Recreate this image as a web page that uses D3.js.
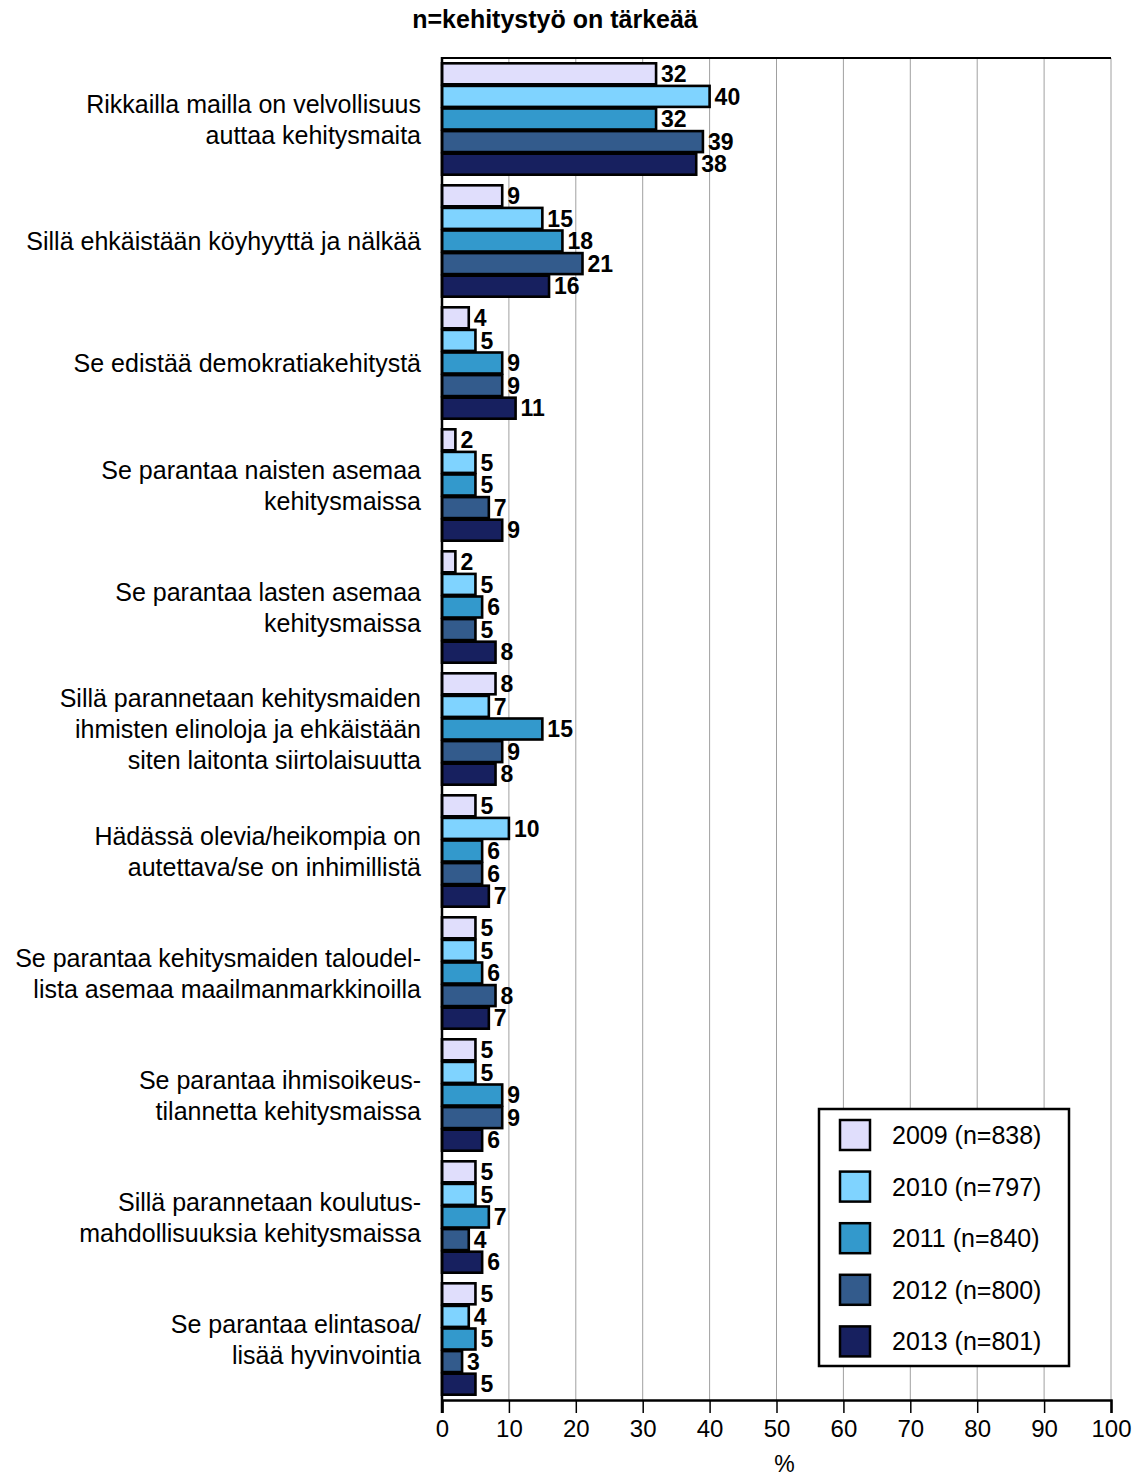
<!DOCTYPE html>
<html><head><meta charset="utf-8">
<script src="https://cdn.jsdelivr.net/npm/d3@7"></script>
<style>body{margin:0;background:#fff;}svg{display:block;font-family:"Liberation Sans",Arial,sans-serif;}</style>
</head><body>
<svg id="c" width="1138" height="1478"></svg>
<script>
const title = "n=kehitystyö on tärkeää";
const categories = [
  ["Rikkailla mailla on velvollisuus","auttaa kehitysmaita"],
  ["Sillä ehkäistään köyhyyttä ja nälkää"],
  ["Se edistää demokratiakehitystä"],
  ["Se parantaa naisten asemaa","kehitysmaissa"],
  ["Se parantaa lasten asemaa","kehitysmaissa"],
  ["Sillä parannetaan kehitysmaiden","ihmisten elinoloja ja ehkäistään","siten laitonta siirtolaisuutta"],
  ["Hädässä olevia/heikompia on","autettava/se on inhimillistä"],
  ["Se parantaa kehitysmaiden taloudel-","lista asemaa maailmanmarkkinoilla"],
  ["Se parantaa ihmisoikeus-","tilannetta kehitysmaissa"],
  ["Sillä parannetaan koulutus-","mahdollisuuksia kehitysmaissa"],
  ["Se parantaa elintasoa/","lisää hyvinvointia"]
];
const seriesNames = ["2009 (n=838)","2010 (n=797)","2011 (n=840)","2012 (n=800)","2013 (n=801)"];
const v2009 = [32,9,4,2,2,8,5,5,5,5,5];
const v2010 = [40,15,5,5,5,7,10,5,5,5,4];
const v2011 = [32,18,9,5,6,15,6,6,9,7,5];
const v2012 = [39,21,9,7,5,9,6,8,9,4,3];
const v2013 = [38,16,11,9,8,8,7,7,6,6,5];
const seriesValues = [v2009,v2010,v2011,v2012,v2013];
const colors = ["#E0DEFC","#7FD3FF","#3399CC","#335B8C","#17205F"];
const xTicks = [0,10,20,30,40,50,60,70,80,90,100];

const svg = d3.select("#c");
const L = 442, R = 1111, T = 58, B = 1400;
const x = d3.scaleLinear().domain([0,100]).range([L,R]);
const y0 = d3.scaleBand().domain(d3.range(categories.length)).range([T,B]);
const y1 = d3.scaleBand().domain(d3.range(seriesNames.length)).range([4.5, y0.bandwidth()-4.5]);

// title
svg.append("text").attr("x",555).attr("y",28).attr("text-anchor","middle")
  .attr("font-size",25).attr("font-weight","bold").text(title);

// gridlines
svg.append("g").selectAll("line").data(xTicks.slice(1)).join("line")
  .attr("x1",d=>x(d)).attr("x2",d=>x(d)).attr("y1",T).attr("y2",B)
  .attr("stroke","#a0a0a0").attr("stroke-width",1);
// top border
svg.append("line").attr("x1",L).attr("x2",R).attr("y1",T).attr("y2",T).attr("stroke","#000").attr("stroke-width",2);

// bars
const groups = svg.append("g").selectAll("g").data(categories).join("g")
  .attr("transform",(d,i)=>`translate(0,${y0(i)})`);
groups.each(function(cat,i){
  const g = d3.select(this);
  seriesValues.forEach((vals,s)=>{
    const v = vals[i];
    const yy = y1(s);
    const h = y1.bandwidth();
    g.append("rect").attr("x",x(0)).attr("y",yy+0.8).attr("width",x(v)-x(0)).attr("height",h-1.6)
      .attr("fill",colors[s]).attr("stroke","#000").attr("stroke-width",2.6);
    g.append("text").attr("x",x(v)+5).attr("y",yy+h/2).attr("dy","0.36em")
      .attr("font-size",23).attr("font-weight","bold").text(v);
  });
  // category label
  const n = cat.length, lh = 31;
  const cy = y0.bandwidth()/2;
  cat.forEach((line,k)=>{
    g.append("text").attr("x",421).attr("y",cy + (k-(n-1)/2)*lh).attr("dy","0.36em")
      .attr("text-anchor","end").attr("font-size",25).text(line);
  });
});

// axes
const xAxis = d3.axisBottom(x).tickValues(xTicks).tickSize(13).tickPadding(7);
const ax = svg.append("g").attr("transform",`translate(0,${B})`).call(xAxis);
ax.select(".domain").attr("stroke","#000").attr("stroke-width",2.5);
ax.selectAll(".tick line").attr("stroke","#000").attr("stroke-width",1.5);
ax.selectAll(".tick text").attr("font-size",24).attr("font-family","'Liberation Sans',Arial,sans-serif").attr("fill","#000");
svg.append("line").attr("x1",L).attr("x2",L).attr("y1",T-1).attr("y2",B+13).attr("stroke","#000").attr("stroke-width",2.5);
svg.append("text").attr("x",x(50)+8).attr("y",1472).attr("text-anchor","middle").attr("font-size",23).text("%");

// legend
const lg = svg.append("g");
lg.append("rect").attr("x",819).attr("y",1109).attr("width",250).attr("height",257)
  .attr("fill","#fff").attr("stroke","#000").attr("stroke-width",2.5);
seriesNames.forEach((name,s)=>{
  const cy = 1135 + s*51.6;
  lg.append("rect").attr("x",840).attr("y",cy-15).attr("width",30).attr("height",30)
    .attr("fill",colors[s]).attr("stroke","#000").attr("stroke-width",2.5);
  lg.append("text").attr("x",892).attr("y",cy).attr("dy","0.36em").attr("font-size",25).text(name);
});
</script>
</body></html>
